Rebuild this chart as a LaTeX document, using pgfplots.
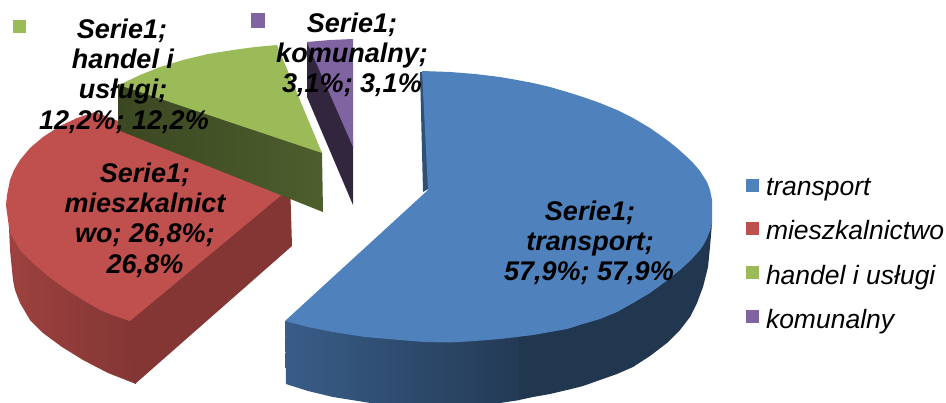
\documentclass[border=0pt]{standalone}
\usepackage{fontspec}
\setmainfont{Liberation Sans}
\usepackage{pgfplots}
\pgfplotsset{compat=1.18}
\definecolor{cblue}{HTML}{4F81BD}
\definecolor{cred}{HTML}{C0504D}
\definecolor{cgreen}{HTML}{9BBB59}
\definecolor{cpurple}{HTML}{8064A2}
\newcommand{\lab}{\fontsize{27bp}{30bp}\selectfont\bfseries\itshape}
\begin{document}
\begin{tikzpicture}
\begin{axis}[
  width=946bp,height=403bp,scale only axis,
  xmin=0,xmax=946,ymin=0,ymax=403,y dir=reverse,
  axis lines=none,clip=true,
  legend image code/.code={\fill[#1] (0bp,-4bp) rectangle (13bp,9bp);},
  legend cell align=left,
  legend style={at={(axis cs:746,178.5)},anchor=north west,draw=none,fill=none,
    font=\fontsize{26.5bp}{30bp}\selectfont\itshape,
    inner sep=0pt,outer sep=0pt,row sep=23.5bp,column sep=7bp,
    nodes={inner sep=0pt,outer sep=0pt}},
]
% frame of the picture: draws nothing, keeps the page the full size
\addplot[forget plot,draw=none] coordinates {(0,0)(946,403)};
% blue wall
\addplot[forget plot,draw=none,shade,left color=cblue!72!black,right color=cblue!45!black] coordinates {(285,321)(300,322)(333,328)(400,336)(450,338)(520,333)(520,400)(500,403)(450,405)(383,405)(358,401)(333,397)(308,391)(286,384)} -- cycle;
\addplot[forget plot,draw=none,fill=cblue!42!black] coordinates {(519,333)(567,324)(617,308)(650,288)(680,265)(700,245)(707,233)(712,223)(711,235)(710,247)(708,267)(703,287)(697,303)(690,317)(680,330)(667,343)(650,356)(633,367)(617,374)(600,380)(583,386)(567,390)(550,394)(533,397)(519,400)} -- cycle;
% blue inner side
\addplot[forget plot,draw=none,fill=cblue!62!black] coordinates {(420,72)(425,72)(430,188)(423,192)} -- cycle;
% blue top
\addplot[fill=cblue,draw=none] coordinates {(422,71)(450,72)(475,74)(500,77)(517,80)(533,83)(550,87)(567,92)(583,97)(600,103)(617,110)(633,118)(650,128)(667,140)(677,148)(687,157)(694,164)(700,171)(707,182)(710,190)(712,200)(712,210)(712,223)(710,231)(707,238)(704,244)(700,250)(690,261)(680,270)(665,282)(650,293)(633,303)(617,312)(600,319)(583,324)(567,329)(550,332)(533,335)(517,337)(500,339)(475,341)(450,342.5)(425,342)(400,340)(365,337)(333,332)(308,327)(285,321)(428,190)} -- cycle;
\addlegendentry{transport}
% red walls
\addplot[forget plot,draw=none,shade,left color=cred!82!black,right color=cred!68!black] coordinates {(8,205)(30,240)(60,270)(100,300)(137,318)(136,384)(108,373)(83,360)(62,347)(43,333)(30,320)(20,303)(15,290)(13,280)(10,250)} -- cycle;
\addplot[forget plot,draw=none,fill=cred!68!black] coordinates {(125,315)(290,180)(292,246)(135,384)} -- cycle;
% red top
\addplot[fill=cred,draw=none] coordinates {(95,112)(77,118)(60,126)(43,137)(30,148)(20,160)(14,170)(10,180)(7,195)(6,205)(7,213)(10,233)(20,250)(33,263)(49,277)(67,290)(83,300)(100,310)(115,316)(130,321)(290,188)} -- cycle;
\addlegendentry{mieszkalnictwo}
% green wall
\addplot[forget plot,draw=none,shade,left color=cgreen!38!black,right color=cgreen!50!black] coordinates {(118,84)(200,100)(318,147)(322,153)(323,212)(118,130)} -- cycle;
% green top
\addplot[fill=cgreen,draw=none] coordinates {(119,85)(140,75)(160,67)(183,60)(208,54)(233,50)(255,47)(277,45)(322,153)} -- cycle;
\addlegendentry{handel i usługi}
% purple wall
\addplot[forget plot,draw=none,fill=cpurple!38!black] coordinates {(307,42)(353,140)(353,205)(307,97)} -- cycle;
% purple top
\addplot[fill=cpurple,draw=none] coordinates {(307,42)(330,40)(353,39)(353,147)} -- cycle;
\addlegendentry{komunalny}
% stray legend keys
\addplot[forget plot,fill=cgreen,draw=none] coordinates {(13,20)(26,20)(26,33)(13,33)} -- cycle;
\addplot[forget plot,fill=cpurple,draw=none] coordinates {(251,13)(265,13)(265,28)(251,28)} -- cycle;
% labels
\node[anchor=base,font=\lab] at (axis cs:590,220) {Serie1;};
\node[anchor=base,font=\lab] at (axis cs:590,250) {transport;};
\node[anchor=base,font=\lab] at (axis cs:589,280) {57,9\%; 57,9\%};
\node[anchor=base,font=\lab] at (axis cs:145,182) {Serie1;};
\node[anchor=base,font=\lab] at (axis cs:145,212) {mieszkalnict};
\node[anchor=base,font=\lab] at (axis cs:145,242) {wo; 26,8\%;};
\node[anchor=base,font=\lab] at (axis cs:145,273) {26,8\%};
\node[anchor=base,font=\lab] at (axis cs:122,38) {Serie1;};
\node[anchor=base,font=\lab] at (axis cs:123,68) {handel i};
\node[anchor=base,font=\lab] at (axis cs:123,98) {usługi;};
\node[anchor=base,font=\lab] at (axis cs:124,129) {12,2\%; 12,2\%};
\node[anchor=base,font=\lab] at (axis cs:352,32) {Serie1;};
\node[anchor=base,font=\lab] at (axis cs:352,62) {komunalny;};
\node[anchor=base,font=\lab] at (axis cs:352,92) {3,1\%; 3,1\%};
\end{axis}
\end{tikzpicture}
\end{document}
